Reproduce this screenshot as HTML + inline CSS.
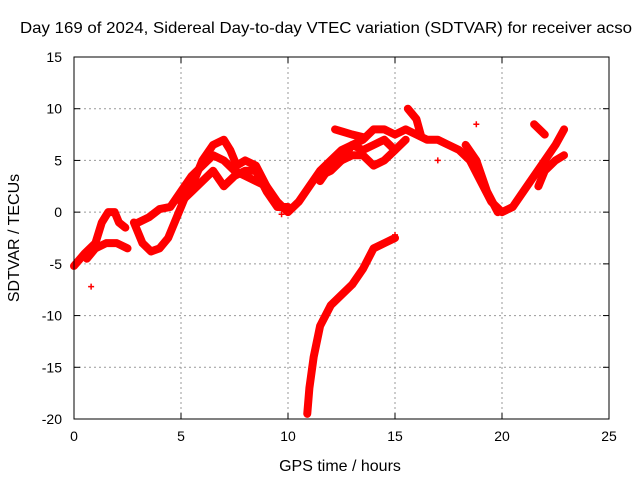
<!DOCTYPE html>
<html><head><meta charset="utf-8"><style>
body{margin:0;background:#fff;width:640px;height:480px;overflow:hidden}
svg text{font-family:"Liberation Sans",sans-serif;font-size:14px;fill:#000}
svg text.big{font-size:16px}
</style></head><body>
<svg id="chart" width="640" height="480" xmlns="http://www.w3.org/2000/svg">
<text class="big" x="20" y="33" textLength="612" lengthAdjust="spacingAndGlyphs">Day 169 of 2024, Sidereal Day-to-day VTEC variation (SDTVAR) for receiver acso</text>
<text class="big" x="340" y="471" text-anchor="middle">GPS time / hours</text>
<text class="big" transform="translate(19,238) rotate(-90)" text-anchor="middle">SDTVAR / TECUs</text>
<g id="grid"></g>
<g id="ticks"></g>
<g id="series"></g>
<rect x="74" y="57" width="535" height="362" fill="none" stroke="#000" stroke-width="1"/>
</svg>
<script>
const xTicks=[0,5,10,15,20,25];
const yTicks=[15,10,5,0,-5,-10,-15,-20];
const track1=[[0,-5.2],[0.5,-4],[1,-3],[1.3,-1],[1.6,0],[1.9,0],[2.1,-1],[2.4,-1.5]];
const track2=[[0.6,-4.5],[1,-3.5],[1.5,-3],[2,-3],[2.5,-3.5]];
const track3=[[2.8,-1],[3.2,-3],[3.6,-3.8],[4,-3.5],[4.4,-2.5],[4.8,-0.5],[5.2,1.5],[5.6,3],[6,5],[6.5,6.5],[7,7],[7.3,6],[7.6,4.5],[8,5],[8.5,4.5],[9,2.5],[9.5,1],[10,0],[10.5,1],[11,2.5],[11.5,4],[12,5],[12.5,6],[13,6.5],[13.5,7],[14,8],[14.5,8],[15,7.5],[15.5,8],[16,7.5],[16.5,7],[17,7],[17.5,6.5],[18,6],[18.5,5],[19,3],[19.5,1],[20,0],[20.5,0.5],[21,2],[21.5,3.5],[22,5],[22.5,6.5],[22.9,8]];
const track4=[[3,-1],[3.5,-0.5],[4,0.3],[4.5,0.5],[5,2],[5.5,3.5],[6,4.5],[6.5,5.5],[7,5],[7.5,4],[8,3.5],[8.5,3],[9,2.5]];
const track5=[[5,1],[5.5,2],[6,3],[6.5,4],[7,2.5],[7.5,3.5],[8,4],[8.5,4],[9,2],[9.5,0.5],[10,0.5]];
const track6=[[11.5,3],[12,4.5],[12.5,5],[13,5.5],[13.5,5.5],[14,4.5],[14.5,5],[15,6],[15.5,7]];
const track7=[[11.5,3.5],[12,4],[12.5,5],[13,6.5],[13.5,6],[14,6.5],[14.5,7],[15,6]];
const track8=[[12.2,8],[13,7.5],[13.6,7.2]];
const track9=[[15.6,10],[16,9],[16.2,7.5]];
const track10=[[18.3,6.5],[18.8,5],[19.3,2],[19.8,0]];
const track11=[[21.5,8.5],[22,7.5]];
const track12=[[21.7,2.5],[22,4],[22.5,5],[22.9,5.5]];
const track13=[[10.9,-19.5],[11,-17],[11.2,-14],[11.5,-11],[12,-9],[12.5,-8],[13,-7],[13.5,-5.5],[14,-3.5],[14.5,-3],[15,-2.5]];
const outliers=[[0.8,-7.2],[18.8,8.5],[17,5],[9.7,-0.2],[15,-2.2]];
const tracks=[track1,track2,track3,track4,track5,track6,track7,track8,track9,track10,track11,track12,track13];
const X=h=>74+h*535/25, Y=v=>57+(15-v)*362/35;
const NS="http://www.w3.org/2000/svg";
const grid=document.getElementById('grid'),ticks=document.getElementById('ticks'),ser=document.getElementById('series');
function mk(t,a,p){const e=document.createElementNS(NS,t);for(const k in a)e.setAttribute(k,a[k]);p.appendChild(e);return e;}
xTicks.forEach(t=>{const x=X(t);
 if(t>0&&t<25){const g=mk('line',{x1:x,x2:x,y1:57,y2:419,stroke:'#999','stroke-dasharray':'2,3'},grid);
 
 }
 const l=mk('text',{x:x,y:441,'text-anchor':'middle'},ticks);l.textContent=t;
 
 
 mk('line',{x1:x,x2:x,y1:419,y2:413,stroke:'#000'},ticks);mk('line',{x1:x,x2:x,y1:57,y2:63,stroke:'#000'},ticks);});
yTicks.forEach(t=>{const y=Y(t);
 if(t<15&&t>-20){const g=mk('line',{x1:74,x2:609,y1:y,y2:y,stroke:'#999','stroke-dasharray':'2,3'},grid);
 
 }
 const l=mk('text',{x:62,y:y+5,'text-anchor':'end'},ticks);l.textContent=t;
 
 
 mk('line',{x1:74,x2:80,y1:y,y2:y,stroke:'#000'},ticks);mk('line',{x1:609,x2:603,y1:y,y2:y,stroke:'#000'},ticks);});
tracks.forEach(tr=>{const p=mk('polyline',{points:tr.map(d=>X(d[0])+','+Y(d[1])).join(' '),fill:'none',stroke:'#f00','stroke-width':8,'stroke-linejoin':'round','stroke-linecap':'round'},ser);
 
 });
outliers.forEach(d=>{const x=X(d[0]),y=Y(d[1]);
 const p=mk('path',{d:`M${x-3},${y}H${x+3}M${x},${y-3}V${y+3}`,stroke:'#f00','stroke-width':1.5},ser);
 
 });
</script>
</body></html>
